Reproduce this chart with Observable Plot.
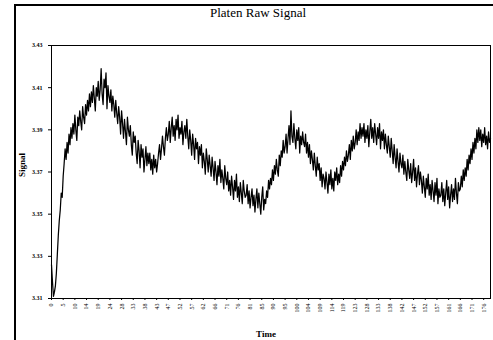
<!DOCTYPE html>
<html>
<head>
<meta charset="utf-8">
<script src="https://cdn.jsdelivr.net/npm/d3@7"></script>
<script src="https://cdn.jsdelivr.net/npm/@observablehq/plot@0.6"></script>
<style>
  html, body { margin: 0; padding: 0; background: white; }
  #wrap { position: relative; width: 493px; height: 340px; overflow: hidden; font-family: "Liberation Serif", serif; }
  #wrap svg { position: absolute; left: 0; top: 0; }
  .frameL { position: absolute; left: 14px; top: 4px; width: 2px; height: 340px; background: black; }
  .frameT { position: absolute; left: 14px; top: 4px; width: 480px; height: 2px; background: black; }
  .title { position: absolute; left: 0; width: 516px; top: 5px; text-align: center; font-size: 13px; }
  .ylab { position: absolute; left: 22px; top: 165px; transform: translate(-50%, -50%) rotate(-90deg); font-size: 9px; font-weight: bold; }
  .xlab { position: absolute; left: 266px; top: 334px; transform: translate(-50%, -50%); font-size: 9px; font-weight: bold; }
</style>
</head>
<body>
<div id="wrap">
  <div class="frameL"></div>
  <div class="frameT"></div>
</div>
<script>
const title = "Platen Raw Signal";
const xTitle = "Time";
const yTitle = "Signal";
const yTicks = [3.31, 3.33, 3.35, 3.37, 3.39, 3.41, 3.43];
const timeLabels = ["0","5","10","14","19","24","28","33","38","43","47","52","57","62","66","71","76","81","85","90","95","100","104","109","114","119","123","128","133","138","142","147","152","157","161","166","171","176"];
const signal = [
  3.326, 3.318, 3.311, 3.313, 3.316, 3.322, 3.331, 3.340, 3.347, 3.352, 3.360, 3.358, 3.368, 3.374, 3.381, 3.376, 3.384, 3.379, 3.388, 3.383,
  3.391, 3.386, 3.393, 3.388, 3.397, 3.390, 3.385, 3.396, 3.392, 3.399, 3.394, 3.390, 3.401, 3.396, 3.393, 3.402, 3.397, 3.404, 3.399, 3.407,
  3.401, 3.408, 3.403, 3.411, 3.405, 3.399, 3.410, 3.406, 3.413, 3.404, 3.409, 3.419, 3.407, 3.402, 3.414, 3.410, 3.417, 3.400, 3.411, 3.406,
  3.403, 3.409, 3.399, 3.406, 3.402, 3.396, 3.404, 3.398, 3.393, 3.401, 3.396, 3.388, 3.399, 3.393, 3.386, 3.395, 3.389, 3.383, 3.396, 3.390,
  3.387, 3.392, 3.383, 3.378, 3.389, 3.384, 3.387, 3.379, 3.374, 3.385, 3.380, 3.372, 3.383, 3.377, 3.381, 3.370, 3.376, 3.382, 3.373, 3.379,
  3.374, 3.379, 3.371, 3.376, 3.369, 3.378, 3.372, 3.376, 3.370, 3.374, 3.379, 3.383, 3.376, 3.381, 3.387, 3.382, 3.378, 3.386, 3.391, 3.385,
  3.388, 3.394, 3.384, 3.391, 3.396, 3.387, 3.392, 3.385, 3.395, 3.390, 3.397, 3.386, 3.391, 3.388, 3.394, 3.383, 3.389, 3.392, 3.386, 3.395,
  3.387, 3.381, 3.390, 3.385, 3.378, 3.388, 3.383, 3.376, 3.386, 3.381, 3.384, 3.374, 3.382, 3.378, 3.383, 3.372, 3.379, 3.375, 3.369, 3.381,
  3.376, 3.370, 3.378, 3.373, 3.368, 3.377, 3.372, 3.366, 3.375, 3.370, 3.364, 3.373, 3.368, 3.376, 3.365, 3.371, 3.367, 3.362, 3.373, 3.367,
  3.364, 3.370, 3.361, 3.366, 3.359, 3.368, 3.363, 3.357, 3.366, 3.361, 3.369, 3.358, 3.363, 3.356, 3.365, 3.360, 3.355, 3.366, 3.361, 3.358,
  3.359, 3.364, 3.355, 3.361, 3.353, 3.358, 3.362, 3.354, 3.359, 3.351, 3.357, 3.362, 3.353, 3.360, 3.355, 3.350, 3.358, 3.363, 3.352, 3.357,
  3.355, 3.361, 3.358, 3.366, 3.362, 3.367, 3.364, 3.371, 3.366, 3.373, 3.369, 3.376, 3.371, 3.368, 3.378, 3.373, 3.380, 3.377, 3.385, 3.379,
  3.382, 3.388, 3.379, 3.386, 3.392, 3.383, 3.399, 3.387, 3.384, 3.393, 3.386, 3.381, 3.390, 3.385, 3.391, 3.379, 3.387, 3.383, 3.389, 3.384,
  3.382, 3.388, 3.379, 3.384, 3.377, 3.383, 3.374, 3.380, 3.376, 3.371, 3.379, 3.373, 3.368, 3.377, 3.371, 3.374, 3.366, 3.372, 3.363, 3.369,
  3.367, 3.362, 3.370, 3.365, 3.360, 3.369, 3.364, 3.371, 3.362, 3.367, 3.361, 3.370, 3.366, 3.372, 3.364, 3.369, 3.365, 3.373, 3.368, 3.375,
  3.371, 3.377, 3.373, 3.380, 3.375, 3.378, 3.383, 3.376, 3.385, 3.380, 3.387, 3.381, 3.384, 3.390, 3.383, 3.389, 3.385, 3.393, 3.386, 3.391,
  3.387, 3.393, 3.384, 3.390, 3.386, 3.392, 3.382, 3.389, 3.395, 3.386, 3.391, 3.384, 3.393, 3.388, 3.383, 3.391, 3.386, 3.393, 3.381, 3.389,
  3.385, 3.390, 3.381, 3.388, 3.383, 3.379, 3.387, 3.382, 3.377, 3.386, 3.380, 3.374, 3.383, 3.377, 3.372, 3.381, 3.375, 3.370, 3.379, 3.374,
  3.372, 3.378, 3.369, 3.375, 3.370, 3.366, 3.376, 3.371, 3.367, 3.374, 3.365, 3.370, 3.376, 3.366, 3.372, 3.363, 3.369, 3.373, 3.364, 3.370,
  3.366, 3.360, 3.368, 3.363, 3.358, 3.367, 3.362, 3.369, 3.359, 3.364, 3.357, 3.366, 3.361, 3.356, 3.365, 3.359, 3.367, 3.355, 3.362, 3.358,
  3.359, 3.365, 3.356, 3.362, 3.354, 3.360, 3.366, 3.357, 3.363, 3.353, 3.359, 3.364, 3.356, 3.362, 3.357, 3.367, 3.360, 3.355, 3.365, 3.361,
  3.362, 3.368, 3.363, 3.371, 3.366, 3.372, 3.368, 3.376, 3.371, 3.378, 3.374, 3.381, 3.376, 3.384, 3.379, 3.386, 3.381, 3.390, 3.384, 3.391,
  3.385, 3.390, 3.382, 3.388, 3.384, 3.391, 3.383, 3.387, 3.381, 3.389, 3.384, 3.386
];
const pointsPerLabel = 12;
const tickPos = timeLabels.map((_, k) => k * pointsPerLabel);
const data = signal.map((v, i) => ({t: i, v}));

const chart = Plot.plot({
  width: 493,
  height: 340,
  marginLeft: 51,
  marginRight: 3,
  marginTop: 45,
  marginBottom: 42,
  style: {fontFamily: "Liberation Serif", fontSize: "6px", background: "transparent", color: "black"},
  x: {domain: [0, signal.length - 1]},
  y: {domain: [3.31, 3.43]},
  marks: [
    Plot.frame({stroke: "black", strokeWidth: 1}),
    Plot.axisY(yTicks, {tickSize: 3, tickFormat: d => d.toFixed(2), label: null, fontWeight: "bold", tickPadding: 6}),
    Plot.axisX(tickPos, {tickRotate: -90, tickFormat: (d, i) => timeLabels[i], tickSize: 2, label: null, tickPadding: 3}),
    Plot.lineY(data, {x: "t", y: "v", stroke: "black", strokeWidth: 1.25})
  ]
});
const wrap = document.getElementById("wrap");
wrap.appendChild(chart);
const t = document.createElement("div"); t.className = "title"; t.textContent = title; wrap.appendChild(t);
const yl = document.createElement("div"); yl.className = "ylab"; yl.textContent = yTitle; wrap.appendChild(yl);
const xl = document.createElement("div"); xl.className = "xlab"; xl.textContent = xTitle; wrap.appendChild(xl);
</script>
</body>
</html>
